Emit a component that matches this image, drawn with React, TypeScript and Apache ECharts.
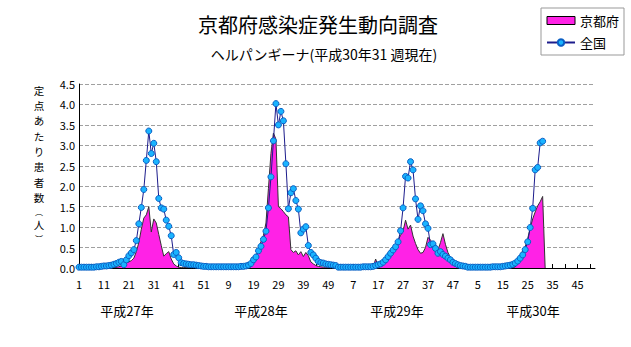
import React, { useEffect, useRef } from 'react';
import * as echarts from 'echarts';

const FONT = '"Noto Sans CJK JP", "Noto Sans", sans-serif';

// Week labels: 52 weeks per year, four years (H27–H30)
const weeksPerYear = 52;
const yearLabels = ['平成27年', '平成28年', '平成29年', '平成30年'];
const yTicks = [0, 0.5, 1, 1.5, 2, 2.5, 3, 3.5, 4, 4.5];

// 京都府 (per sentinel) by year
const kyoto2015 = [
  0.01, 0.01, 0.01, 0.01, 0.01, 0.01, 0.01, 0.01, 0.01, 0.01, 0.01, 0.01, 0.01, 0.01, 0.01,
  0.02, 0.03, 0.05, 0.08, 0.12, 0.15, 0.18, 0.24, 0.4, 0.62, 0.95, 1.22, 1.3, 1.5, 0.88,
  1.2, 1.1, 0.82, 0.55, 0.29, 0.35, 0.4, 0.22, 0.1, 0.05, 0.02,
  0.01, 0.01, 0.01, 0.01, 0.01, 0.01, 0.01, 0.01, 0.01, 0.01, 0.01,
];
const kyoto2016 = [
  0.01, 0.01, 0.01, 0.01, 0.01, 0.01, 0.01, 0.01, 0.01, 0.01, 0.01, 0.01, 0.01, 0.01, 0.01,
  0.03, 0.06, 0.1, 0.18, 0.3, 0.45, 0.65, 0.8, 1.1, 1.95, 2.8, 3.3, 3.15, 1.5, 1.45,
  1.38, 1.3, 1.25, 0.45, 0.38, 0.42, 0.32, 0.4, 0.28, 0.38, 0.3, 0.15, 0.1, 0.06, 0.04, 0.03,
  0.02, 0.02, 0.02, 0.02, 0.02, 0.02,
];
const kyoto2017 = [
  0.01, 0.01, 0.01, 0.01, 0.01, 0.01, 0.01, 0.01, 0.01, 0.01, 0.01, 0.01, 0.01, 0.01,
  0.02, 0.22, 0.05, 0.1, 0.15, 0.2, 0.28, 0.36, 0.46, 0.56, 0.68, 0.8, 0.9, 1.17, 0.95,
  1.05, 0.78, 0.6, 0.45, 0.36, 0.38, 0.5, 0.75, 0.68, 0.62, 0.52, 0.44, 0.62, 0.84, 0.58,
  0.38, 0.26, 0.15, 0.08, 0.04, 0.02, 0.01, 0.01,
];
const kyoto2018 = [
  0.01, 0.01, 0.01, 0.01, 0.01, 0.01, 0.01, 0.01, 0.01, 0.01, 0.01, 0.01, 0.01, 0.01, 0.01,
  0.01, 0.01, 0.01, 0.01,
  0.03, 0.1, 0.3, 0.42, 0.52, 0.72, 0.98, 1.2, 1.37, 1.52, 1.62, 1.75, 0,
  null, null, null, null, null, null, null, null, null, null,
  null, null, null, null, null, null, null, null, null, null,
];

// 全国 (per sentinel) by year
const national2015 = [
  0.02, 0.02, 0.02, 0.02, 0.02, 0.02, 0.02, 0.03, 0.03, 0.04,
  0.05, 0.05, 0.06, 0.07, 0.09, 0.11, 0.14, 0.16, 0.08, 0.2,
  0.3, 0.37, 0.45, 0.67, 1.08, 1.48, 1.92, 2.63, 3.35, 2.8,
  3.05, 2.6, 1.7, 1.47, 1.44, 1.17, 1.02, 0.79, 0.33, 0.38,
  0.25, 0.13, 0.11, 0.1, 0.09, 0.08, 0.08, 0.07, 0.06, 0.05,
  0.04, 0.04,
];
const national2016 = [
  0.03, 0.03, 0.03, 0.03, 0.03, 0.03, 0.03, 0.03, 0.03, 0.03, 0.03, 0.03, 0.03, 0.04, 0.04,
  0.05, 0.07, 0.11, 0.2, 0.27, 0.42, 0.53, 0.7, 0.9, 1.47, 2.23, 3.11, 4.02, 3.5, 3.83,
  3.6, 2.55, 1.45, 1.84, 1.94, 1.65, 1.44, 0.86, 0.95, 1.01, 0.55, 0.38, 0.32, 0.24, 0.16,
  0.13, 0.12, 0.1, 0.09, 0.08, 0.07, 0.06,
];
const national2017 = [
  0.02, 0.02, 0.02, 0.02, 0.02, 0.02, 0.02, 0.02, 0.02, 0.02, 0.03, 0.03, 0.03,
  0.03, 0.04, 0.06, 0.08, 0.1, 0.14, 0.2, 0.28, 0.36, 0.44, 0.52, 0.64, 0.91, 1.47,
  2.24, 2.2, 2.6, 2.4, 1.69, 1.19, 1.52, 1.4, 1.08, 0.97, 0.57, 0.59, 0.48, 0.36,
  0.4, 0.33, 0.29, 0.24, 0.2, 0.14, 0.11, 0.08, 0.06, 0.05, 0.04,
];
const national2018 = [
  0.02, 0.02, 0.02, 0.02, 0.02, 0.02, 0.02, 0.02, 0.02, 0.02, 0.03, 0.03, 0.03, 0.03,
  0.04, 0.05, 0.06, 0.07, 0.09, 0.12, 0.17, 0.24, 0.32, 0.45, 0.64, 0.99, 1.46, 2.4,
  2.46, 3.06, 3.1,
  null, null, null, null, null, null, null, null, null, null,
  null, null, null, null, null, null, null, null, null, null, null,
];

const categories: string[] = [];
for (let y = 0; y < yearLabels.length; y++) {
  for (let w = 1; w <= weeksPerYear; w++) categories.push(String(w));
}
const kyotoData = [...kyoto2015, ...kyoto2016, ...kyoto2017, ...kyoto2018];
const nationalData = [...national2015, ...national2016, ...national2017, ...national2018];

const yearLabelX = [127, 261, 397, 533];
const yNameChars = ['定', '点', 'あ', 'た', 'り', '患', '者', '数', '︵', '人', '︶'];
const isParen = (c: string) => c === '︵' || c === '︶';

function buildYName() {
  const out: any[] = [];
  let y = 85;
  yNameChars.forEach((c) => {
    const fs = isParen(c) ? 8 : 10.5;
    out.push({
      type: 'text',
      x: 39,
      y,
      style: { text: c, fontSize: fs, fill: '#000', fontFamily: FONT, align: 'center', verticalAlign: 'top' },
    });
    y += fs * 1.46;
  });
  return out;
}

export default function App() {
  const ref = useRef<HTMLDivElement>(null);
  useEffect(() => {
    if (!ref.current) return;
    const chart = echarts.init(ref.current, undefined, { renderer: 'svg' });
    chart.setOption({
      animation: false,
      backgroundColor: '#fff',
      textStyle: { fontFamily: FONT },
      title: [
        {
          text: '京都府感染症発生動向調査',
          left: 313,
          top: 9,
          textAlign: 'center',
          textStyle: { fontSize: 20, fontWeight: 'normal', color: '#000', fontFamily: FONT },
        },
        {
          text: 'ヘルパンギーナ(平成30年31 週現在)',
          left: 319,
          top: 42,
          textAlign: 'center',
          textStyle: { fontSize: 14, fontWeight: 'normal', color: '#000', fontFamily: FONT },
        },
      ],
      legend: {
        orient: 'vertical',
        left: 541,
        top: 8,
        padding: [6, 5, 6, 5],
        itemGap: 9,
        itemWidth: 28,
        itemHeight: 8,
        borderColor: '#999',
        borderWidth: 1,
        textStyle: { fontSize: 13, color: '#000', fontFamily: FONT },
        data: [
          { name: '京都府', icon: 'rect', itemStyle: { color: '#ff22e6', borderColor: '#000', borderWidth: 1 } },
          { name: '全国' },
        ],
      },
      grid: { left: 79, right: 36, top: 84, bottom: 79 },
      xAxis: {
        type: 'category',
        data: categories,
        boundaryGap: false,
        axisLine: { lineStyle: { color: '#000', width: 1 } },
        axisTick: { show: true, inside: true, interval: 4, length: 4, lineStyle: { color: '#000' } },
        axisLabel: { interval: 9, fontSize: 11, color: '#000', margin: 10, fontFamily: FONT },
        splitLine: { show: false },
      },
      yAxis: {
        type: 'value',
        min: yTicks[0],
        max: yTicks[yTicks.length - 1],
        interval: 0.5,
        axisLine: { show: true, lineStyle: { color: '#000', width: 1 } },
        axisTick: { show: false },
        axisLabel: {
          fontSize: 11,
          color: '#000',
          margin: 4,
          fontFamily: FONT,
          formatter: (v: number) => v.toFixed(1),
        },
        splitLine: { show: true, lineStyle: { color: '#a0a0a0', type: 'dashed', width: 1 } },
      },
      graphic: [
        ...buildYName(),
        ...yearLabels.map((t, k) => ({
          type: 'text',
          x: yearLabelX[k],
          y: 310,
          style: {
            text: t,
            fontSize: 13,
            fill: '#000',
            fontFamily: FONT,
            align: 'center',
            verticalAlign: 'middle',
          },
        })),
      ],
      series: [
        {
          name: '京都府',
          type: 'line',
          data: kyotoData,
          symbol: 'none',
          z: 2,
          lineStyle: { color: '#333', width: 1 },
          itemStyle: { color: '#ff22e6' },
          areaStyle: { color: '#ff22e6', opacity: 1 },
        },
        {
          name: '全国',
          type: 'line',
          data: nationalData,
          symbol: 'circle',
          symbolSize: 6,
          showAllSymbol: true,
          z: 3,
          lineStyle: { color: '#1c1c8c', width: 1 },
          itemStyle: { color: '#1ab4ff', borderColor: '#0b5fc4', borderWidth: 1 },
        },
      ],
    });
    return () => chart.dispose();
  }, []);
  return <div ref={ref} style={{ position: 'fixed', left: 0, top: 0, width: 631, height: 347 }} />;
}
